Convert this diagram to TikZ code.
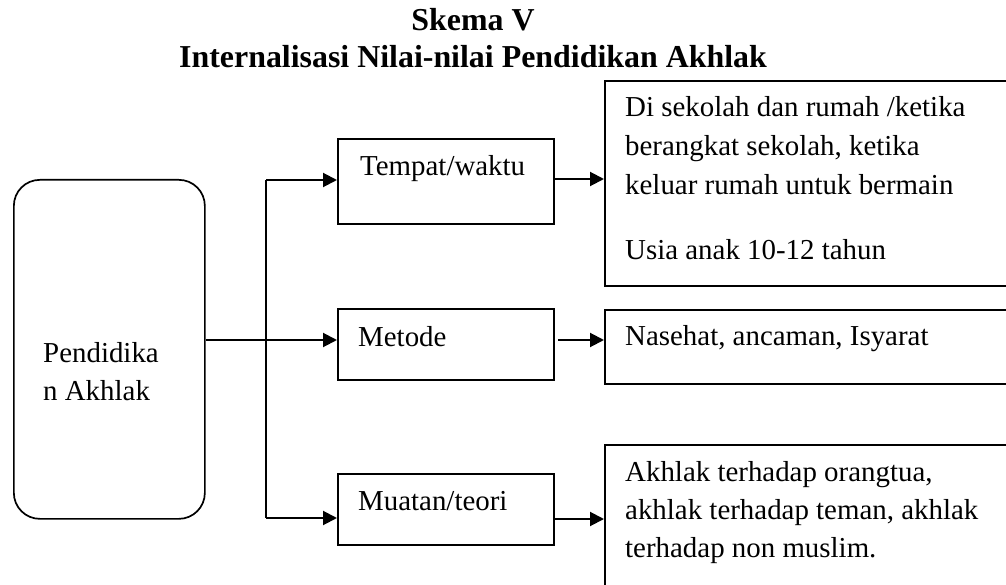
\documentclass[tikz,border=0pt]{standalone}
\usepackage{fontspec}
\setmainfont{Liberation Serif}
\usetikzlibrary{arrows.meta}
\begin{document}
\begin{tikzpicture}[x=1pt,y=-1pt,
  box/.style={draw,line width=1.7pt,rectangle,inner sep=0pt,anchor=north west},
  rbox/.style={draw,line width=1.7pt,rectangle,rounded corners=26pt,inner sep=0pt,anchor=north west},
  txt/.style={anchor=base west,inner sep=0pt,font=\fontsize{28.9}{38.5}\selectfont},
  ttl/.style={anchor=base,inner sep=0pt,font=\fontsize{31.9}{38.5}\selectfont\bfseries},
  arr/.style={line width=2pt,-{Triangle[length=14pt,width=14pt]}},
  ln/.style={line width=2pt}]
\useasboundingbox (0,0) rectangle (1006,585);
\clip (0,0) rectangle (1006,585);
\fill[white] (0,0) rectangle (1006,585);
% title
\node[ttl] (t1) at (473,31) {Skema V};
\node[ttl] (t2) at (473,68) {Internalisasi Nilai-nilai Pendidikan Akhlak};
% main rounded box
\node[rbox,minimum width=191pt,minimum height=339pt] (pa) at (13,179) {};
\node[txt] (pa1) at (43,362) {Pendidika};
\node[txt] (pa2) at (43,400) {n Akhlak};
% middle boxes
\node[box,minimum width=216pt,minimum height=85pt] (tw) at (337,138) {};
\node[txt] (tw1) at (360,176) {Tempat/waktu};
\node[box,minimum width=216pt,minimum height=71pt] (me) at (337,308) {};
\node[txt] (me1) at (358,346) {Metode};
\node[box,minimum width=216pt,minimum height=71pt] (mu) at (337,473) {};
\node[txt] (mu1) at (358,510) {Muatan/teori};
% right boxes
\node[box,minimum width=430pt,minimum height=205pt] (r1) at (604,80) {};
\node[txt] (r1a) at (625,117) {Di sekolah dan rumah /ketika};
\node[txt] (r1b) at (625,156) {berangkat sekolah, ketika};
\node[txt] (r1c) at (625,195) {keluar rumah untuk bermain};
\node[txt] (r1d) at (625,260) {Usia anak 10-12 tahun};
\node[box,minimum width=430pt,minimum height=74pt] (r2) at (604,309) {};
\node[txt] (r2a) at (625,345) {Nasehat, ancaman, Isyarat};
\node[box,minimum width=430pt,minimum height=170pt] (r3) at (604,444) {};
\node[txt] (r3a) at (625,481) {Akhlak terhadap orangtua,};
\node[txt] (r3b) at (625,519) {akhlak terhadap teman, akhlak};
\node[txt] (r3c) at (625,557) {terhadap non muslim.};
% connectors
\coordinate (jt) at (266,180);
\coordinate (jm) at (266,340);
\coordinate (jb) at (266,518);
\draw[ln] (jt) -- (jb);
\draw[arr] (jt) -- (tw.west |- jt);
\draw[arr] (jb) -- (mu.west |- jb);
\draw[arr] (pa.east |- jm) -- (me.west |- jm);
\coordinate (a1) at (553,179);
\coordinate (a2) at (558,340);
\coordinate (a3) at (551,519);
\draw[arr] (tw.east |- a1) -- (r1.west |- a1);
\draw[arr] (a2) -- (r2.west |- a2);
\draw[arr] (mu.east |- a3) -- (r3.west |- a3);
\end{tikzpicture}
\end{document}
